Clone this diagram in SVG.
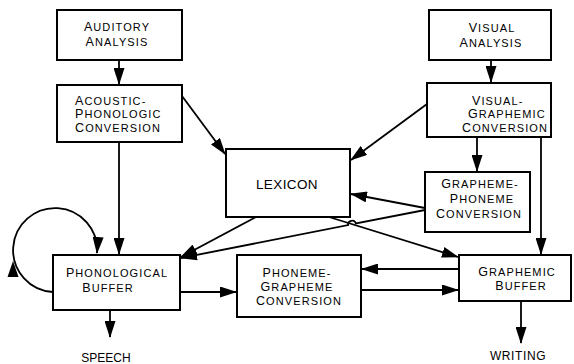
<svg xmlns="http://www.w3.org/2000/svg" width="574" height="364" viewBox="0 0 574 364">
<style>
.box{fill:#fff;stroke:#000;stroke-width:2}
.t{font-family:"Liberation Sans",Arial,sans-serif;font-size:11px;letter-spacing:1.1px;fill:#000}
.big{font-size:12.5px}
.c{stroke:#000;stroke-width:1.8;fill:none}
</style>
<defs>
<marker id="ah" markerUnits="userSpaceOnUse" markerWidth="17" markerHeight="11" refX="16" refY="5.5" orient="auto">
<path d="M0,0 L17,5.5 L0,11 Z" fill="#000"/>
</marker>
</defs>
<g id="connectors">
<line class="c" x1="119" y1="60" x2="119" y2="84" marker-end="url(#ah)"/>
<line class="c" x1="491" y1="60" x2="491" y2="82" marker-end="url(#ah)"/>
<line class="c" x1="182" y1="96" x2="225" y2="154" marker-end="url(#ah)"/>
<line class="c" x1="427" y1="104" x2="351" y2="160" marker-end="url(#ah)"/>
<line class="c" x1="477" y1="137" x2="477" y2="171" marker-end="url(#ah)"/>
<line class="c" x1="541" y1="137" x2="541" y2="254" marker-end="url(#ah)"/>
<line class="c" x1="119" y1="142" x2="119" y2="254" marker-end="url(#ah)"/>
<line class="c" x1="425" y1="208" x2="351" y2="194" marker-end="url(#ah)"/>
<line class="c" x1="256" y1="217" x2="181" y2="257" marker-end="url(#ah)"/>
<line class="c" x1="329" y1="217" x2="458" y2="257" marker-end="url(#ah)"/>
<path class="c" d="M425,210 L355.9,223.5 A4,4 0 0 0 348.1,225.1 L181,258" marker-end="url(#ah)"/>
<path class="c" d="M53,292 A42,42 0 1 1 97,253" marker-end="url(#ah)"/>
<path d="M13,261 L7.5,277 L18.5,277 Z" fill="#000"/>
<line class="c" x1="180" y1="292" x2="236" y2="292" marker-end="url(#ah)"/>
<line class="c" x1="459" y1="269" x2="362" y2="269" marker-end="url(#ah)"/>
<line class="c" x1="361" y1="290" x2="458" y2="290" marker-end="url(#ah)"/>
<line class="c" x1="110" y1="310" x2="110" y2="337" marker-end="url(#ah)"/>
<line class="c" x1="521" y1="301" x2="521" y2="343" marker-end="url(#ah)"/>
</g>
<g id="auditory">
<rect class="box" x="57" y="10" width="125" height="50"/>
<text class="t" x="117" y="31" text-anchor="middle"><tspan class="big">A</tspan>UDITORY</text>
<text class="t" x="117" y="46" text-anchor="middle"><tspan class="big">A</tspan>NALYSIS</text>
</g>
<g id="acoustic">
<rect class="box" x="57" y="85" width="125" height="57"/>
<text class="t" x="75" y="105"><tspan class="big">A</tspan>COUSTIC-</text>
<text class="t" x="75" y="118"><tspan class="big">P</tspan>HONOLOGIC</text>
<text class="t" x="75" y="131.5"><tspan class="big">C</tspan>ONVERSION</text>
</g>
<g id="visual">
<rect class="box" x="429" y="10" width="122" height="50"/>
<text class="t" x="492" y="32" text-anchor="middle"><tspan class="big">V</tspan>ISUAL</text>
<text class="t" x="491" y="47" text-anchor="middle"><tspan class="big">A</tspan>NALYSIS</text>
</g>
<g id="visual-graphemic">
<rect class="box" x="427" y="83" width="124" height="54"/>
<text class="t" x="472" y="105"><tspan class="big">V</tspan>ISUAL-</text>
<text class="t" x="468" y="118"><tspan class="big">G</tspan>RAPHEMIC</text>
<text class="t" x="462" y="132"><tspan class="big">C</tspan>ONVERSION</text>
</g>
<g id="lexicon">
<rect class="box" x="226" y="149" width="124" height="68"/>
<text class="t" x="287" y="189" text-anchor="middle" style="font-size:13.5px;letter-spacing:0.4px">LEXICON</text>
</g>
<g id="grapheme-phoneme">
<rect class="box" x="425" y="172" width="105" height="60"/>
<text class="t" x="480" y="188" text-anchor="middle"><tspan class="big">G</tspan>RAPHEME-</text>
<text class="t" x="482" y="203" text-anchor="middle"><tspan class="big">P</tspan>HONEME</text>
<text class="t" x="479" y="218" text-anchor="middle"><tspan class="big">C</tspan>ONVERSION</text>
</g>
<g id="phonological">
<rect class="box" x="53" y="255" width="127" height="55"/>
<text class="t" x="117" y="277" text-anchor="middle"><tspan class="big">P</tspan>HONOLOGICAL</text>
<text class="t" x="108" y="291.5" text-anchor="middle"><tspan class="big">B</tspan>UFFER</text>
</g>
<g id="phoneme-grapheme">
<rect class="box" x="237" y="255" width="124" height="62"/>
<text class="t" x="297" y="277" text-anchor="middle"><tspan class="big">P</tspan>HONEME-</text>
<text class="t" x="297" y="291" text-anchor="middle"><tspan class="big">G</tspan>RAPHEME</text>
<text class="t" x="299" y="305" text-anchor="middle"><tspan class="big">C</tspan>ONVERSION</text>
</g>
<g id="graphemic">
<rect class="box" x="459" y="255" width="112" height="46"/>
<text class="t" x="517" y="276" text-anchor="middle"><tspan class="big">G</tspan>RAPHEMIC</text>
<text class="t" x="521" y="290" text-anchor="middle"><tspan class="big">B</tspan>UFFER</text>
</g>
<g id="speech">
<text class="t" x="106" y="362" text-anchor="middle" style="font-size:12px;letter-spacing:0">SPEECH</text>
</g>
<g id="writing">
<text class="t" x="518" y="360" text-anchor="middle" style="font-size:12px;letter-spacing:0.6px">WRITING</text>
</g>
</svg>
